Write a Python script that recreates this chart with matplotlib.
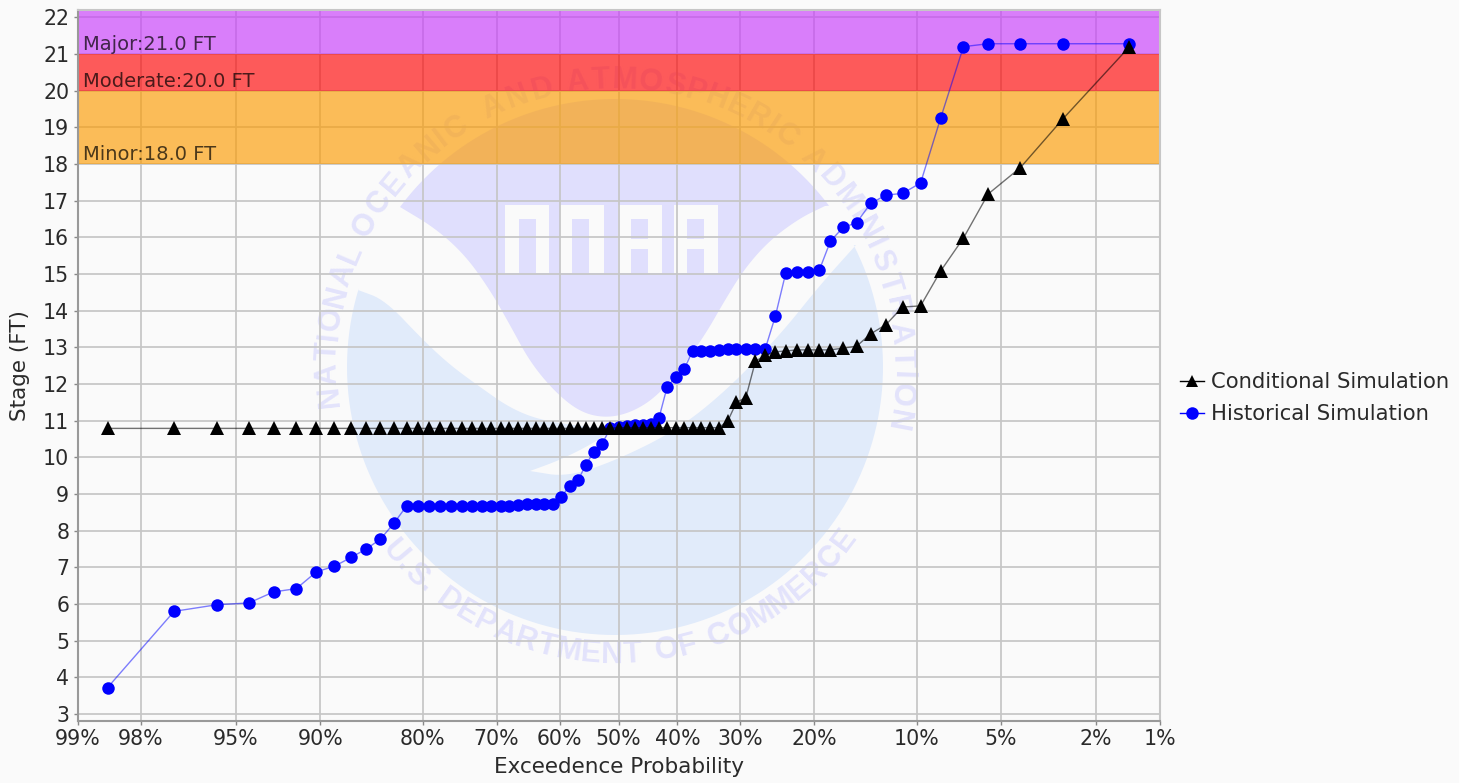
import numpy as np
import matplotlib
matplotlib.use('Agg')
import matplotlib.pyplot as plt
from matplotlib.patches import Polygon, Rectangle
from matplotlib.textpath import TextPath
from matplotlib.font_manager import FontProperties
from matplotlib.ticker import NullLocator
from matplotlib.transforms import Affine2D
from statistics import NormalDist

# exceedance probability (%) of each ensemble member
exceed = [98.6, 97.2, 95.8, 94.4, 93.1, 91.7, 90.3, 88.9, 87.5, 86.1, 84.7, 83.3,
          81.9, 80.6, 79.2, 77.8, 76.4, 75.0, 73.6, 72.2, 70.8, 69.4, 68.1, 66.7,
          65.3, 63.9, 62.5, 61.1, 59.7, 58.3, 56.9, 55.6, 54.2, 52.8, 51.4, 50.0,
          48.6, 47.2, 45.8, 44.4, 43.1, 41.7, 40.3, 38.9, 37.5, 36.1, 34.7, 33.3,
          31.9, 30.6, 29.2, 27.8, 26.4, 25.0, 23.6, 22.2, 20.8, 19.4, 18.1, 16.7,
          15.3, 13.9, 12.5, 11.1, 9.7, 8.3, 6.9, 5.6, 4.2, 2.8, 1.4]
historical = [3.72, 5.8, 5.98, 6.03, 6.33, 6.42, 6.88, 7.03, 7.27, 7.5, 7.77, 8.2, 8.67,
              8.67, 8.67, 8.67, 8.67, 8.67, 8.67, 8.67, 8.68, 8.68, 8.68, 8.69,
              8.72, 8.73, 8.74, 8.74, 8.92, 9.23, 9.37, 9.8, 10.15, 10.37,
              10.8, 10.83, 10.85, 10.87, 10.88, 10.9, 11.07, 11.93, 12.18, 12.4,
              12.9, 12.9, 12.91, 12.94, 12.95, 12.95, 12.95, 12.95, 12.96,
              13.85, 15.03, 15.05, 15.05, 15.1, 15.9, 16.27, 16.4, 16.93,
              17.15, 17.2, 17.48, 19.25, 21.2, 21.28, 21.28, 21.28, 21.28]
conditional = [10.79, 10.79, 10.79, 10.79, 10.79, 10.79, 10.79, 10.79, 10.79, 10.79, 10.79, 10.79,
               10.79, 10.79, 10.79, 10.79, 10.79, 10.79, 10.79, 10.79, 10.79, 10.79, 10.79, 10.79,
               10.79, 10.79, 10.79, 10.79, 10.79, 10.79, 10.79, 10.79, 10.79, 10.79, 10.79,
               10.81, 10.81, 10.81, 10.81, 10.81, 10.81, 10.81, 10.81, 10.81, 10.81, 10.81, 10.81, 10.81,
               11.0, 11.5, 11.63, 12.62, 12.78, 12.88, 12.9, 12.93, 12.93, 12.93, 12.93, 12.98,
               13.03, 13.37, 13.62, 14.1, 14.13, 15.08, 15.98, 17.18, 17.9, 19.23, 21.2]

x_ticks = [99, 98, 95, 90, 80, 70, 60, 50, 40, 30, 20, 10, 5, 2, 1]
y_ticks = list(range(3, 23))
band_names = ['Minor', 'Moderate', 'Major']
band_levels = [18.0, 20.0, 21.0]
band_colors = ['#FC9B01', '#FF0404', '#C83CFB']

W, H = 1469, 783
BG = '#FAFAFA'
GRID = '#C6C6C6'
LAV = '#E0DFFD'
BLU = '#E1EBFA'
INK = '#2A2A2A'

nd = NormalDist()
inv_cdf = np.vectorize(lambda v: nd.inv_cdf(v / 100), otypes=[float])
cdf = np.vectorize(lambda v: nd.cdf(v) * 100, otypes=[float])


def probit(p):
    return inv_cdf(np.clip(np.asarray(p, dtype=float), 0.01, 99.99))


def unprobit(z):
    return cdf(np.clip(np.asarray(z, dtype=float), -3.7, 3.7))


fig = plt.figure(figsize=(W / 100, H / 100), dpi=100, facecolor='white')
fig.patches.append(Rectangle((0, 0), 1458 / W, 1, transform=fig.transFigure, color=BG, zorder=-5))
ax = fig.add_axes([77.5 / W, 1 - 721 / H, (1159.5 - 77.5) / W, 711 / H], facecolor=BG)
ax.set_xscale('function', functions=(probit, unprobit))
ax.set_xlim(99, 1)
ax.set_ylim(2.81, 22.2)

# watermark, in pixel coordinates of the image
pix = Affine2D().scale(1, -1).translate(0, H)
cx, cy, rad = 615, 367, 268


def arc(a0, a1, n=60):
    t = np.radians(np.linspace(a0, a1, n))
    return np.column_stack([cx + rad * np.cos(t), cy - rad * np.sin(t)])


def smooth(pts, rounds=3):
    # corner cutting, keeps both ends in place
    pts = np.array(pts, dtype=float)
    for _ in range(rounds):
        q = 0.75 * pts[:-1] + 0.25 * pts[1:]
        r = 0.25 * pts[:-1] + 0.75 * pts[1:]
        mid = np.empty((2 * len(q), 2))
        mid[0::2] = q
        mid[1::2] = r
        pts = np.vstack([pts[0], mid, pts[-1]])
    return pts


upper = np.vstack([arc(143, 37),
                   smooth([(825, 206), (800, 218), (770, 240), (745, 268), (725, 300), (705, 335),
                           (680, 370), (655, 398), (630, 413), (605, 418), (580, 412), (555, 392),
                           (530, 362), (510, 325), (490, 290), (465, 255), (435, 228), (400, 207)])])
lower = np.vstack([smooth([(358, 290), (385, 300), (423, 340), (450, 365), (480, 387), (510, 408),
                           (540, 420), (580, 426), (615, 429)]),
                   smooth([(615, 429), (590, 445), (560, 460), (530, 471)]),
                   smooth([(530, 471), (567, 477), (617, 460), (677, 430), (727, 390), (780, 335),
                           (820, 285), (856, 245)]),
                   arc(27, -197, 120)])
ax.add_patch(Polygon(upper, closed=True, transform=pix, fc=LAV, ec='none', zorder=0.1))
ax.add_patch(Polygon(lower, closed=True, transform=pix, fc=BLU, ec='none', zorder=0.1))

# blocky NOAA letters
for x0, slots in [(505, [(14, 14, 67)]),
                  (560, [(12, 14, 55)]),
                  (618, [(13, 14, 20), (13, 44, 24)]),
                  (674, [(13, 14, 20), (13, 44, 24)])]:
    ax.add_patch(Rectangle((x0, 205), 44, 68, transform=pix, fc=BG, ec='none', zorder=0.2))
    for dx, dy, h in slots:
        ax.add_patch(Rectangle((x0 + dx, 205 + dy), 17, h, transform=pix, fc=LAV, ec='none', zorder=0.3))

ring_font = FontProperties(family='Liberation Sans', weight='bold', size=22)
low_font = FontProperties(family='Liberation Sans', weight='bold', size=22)


def advances(s, fp):
    out = []
    for ch in s:
        if ch == ' ':
            out.append(0.45 * fp.get_size())
        else:
            out.append(TextPath((0, 0), ch, prop=fp).get_extents().width + 0.2 * fp.get_size())
    out = np.array(out)
    return (np.cumsum(out) - out / 2) / out.sum()


# each word of the ring with the angles it runs between
for word, a0, a1 in [('NATIONAL', 188, 155), ('OCEANIC', 153, 121), ('AND', 118, 102),
                     ('ATMOSPHERIC', 100, 51), ('ADMINISTRATION', 49, -13)]:
    for ch, f in zip(word, advances(word, ring_font)):
        a = a0 + (a1 - a0) * f
        t = np.radians(a)
        ax.text(cx + 287 * np.cos(t), cy - 287 * np.sin(t), ch, transform=pix, fontproperties=ring_font,
                color='#E3E3FC', rotation=a - 90, rotation_mode='anchor', ha='center', va='center', zorder=0.4)

low_text = 'U.S. DEPARTMENT OF COMMERCE'
for ch, f in zip(low_text, advances(low_text, low_font)):
    a = -52 + 107 * f
    t = np.radians(a)
    ax.text(cx + 288 * np.sin(t), cy + 288 * np.cos(t), ch, transform=pix, fontproperties=low_font,
            color='#E3E3FC', rotation=a, rotation_mode='anchor', ha='center', va='center', zorder=0.4)

ax.set_axisbelow(True)
ax.grid(True, color=GRID, lw=1.25)
ax.set_xticks(x_ticks)
ax.set_xticklabels([f'{v}%' for v in x_ticks])
ax.xaxis.set_minor_locator(NullLocator())
ax.set_yticks(y_ticks)
ax.tick_params(axis='both', labelsize=14.8, labelcolor=INK, length=3, width=1, color='#888888', pad=3)

# flood categories
tops = band_levels[1:] + [22.2]
for name, lo, hi, col in zip(band_names, band_levels, tops, band_colors):
    ax.axhspan(lo, hi, color=col, alpha=0.65, lw=0, zorder=1)
    ax.annotate(f'{name}:{lo:.1f} FT', (83, lo), xycoords=('figure pixels', 'data'), xytext=(0, 0),
                textcoords='offset pixels', fontsize=14, color='black', alpha=0.7, va='bottom', zorder=2)

ax.plot(exceed, historical, '-', color='#0000FF', lw=1, alpha=0.5, zorder=3)
ax.plot(exceed, historical, 'o', color='#0000FF', ms=9, mew=0, zorder=3)
ax.plot(exceed, conditional, '-', color='black', lw=1, alpha=0.55, zorder=4)
ax.plot(exceed, conditional, '^', color='black', ms=9.5, mew=0, zorder=4)

for s in ax.spines.values():
    s.set_color(GRID)
    s.set_linewidth(1.5)
ax.spines['left'].set_color('#999999')
ax.spines['bottom'].set_color('#999999')

ax.set_xlabel('Exceedence Probability', fontsize=15.5, color=INK, va='center')
ax.xaxis.set_label_coords(0.5, -(767 - 721) / 711)
ax.set_ylabel('Stage (FT)', fontsize=15.5, color=INK, va='center')
ax.yaxis.set_label_coords((20 - 77.5) / 1082, 0.5)

h1, = ax.plot([], [], '-^', color='black', lw=1, ms=9, mew=0)
h2, = ax.plot([], [], '-o', color='#0000FF', lw=1, ms=9, mew=0)
ax.legend([h1, h2], ['Conditional Simulation', 'Historical Simulation'], loc='center left',
          bbox_to_anchor=(1180 / W, 1 - 398 / H), bbox_transform=fig.transFigure, frameon=False,
          fontsize=15.2, labelcolor=INK, handlelength=1.14, handletextpad=0.33, labelspacing=0.56,
          borderpad=0, borderaxespad=0)

fig.savefig('out.png', dpi=100, facecolor=fig.get_facecolor())
